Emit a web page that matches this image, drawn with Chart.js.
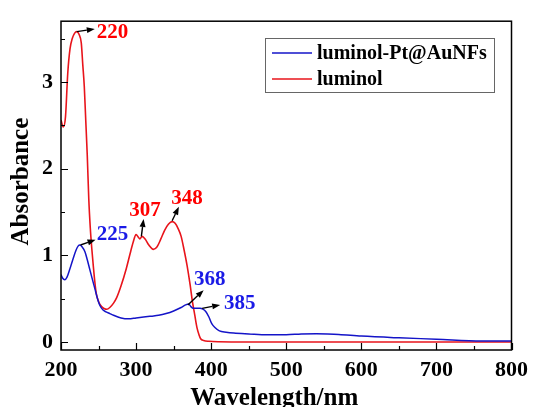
<!DOCTYPE html>
<html><head><meta charset="utf-8">
<script src="https://cdn.jsdelivr.net/npm/chart.js@4/dist/chart.umd.min.js"></script>
<style>html,body{margin:0;padding:0;background:#fff}</style>
</head><body>
<canvas id="c" width="535" height="407"></canvas>
<script>
// ---- data ----
const seriesNames = ['luminol-Pt@AuNFs', 'luminol'];
const wavelengthsPt = [200,202,205,208,212,216,220,223,225,228,232,235,238,241,245,249,252,256,260,265,270,280,290,300,310,320,330,340,350,360,366,370,373,376,380,385,389,393,397,401,405,411,420,430,450,475,500,520,540,555,570,600,650,700,760,800];
const absorbancePt = [0.78,0.74,0.72,0.75,0.85,0.96,1.06,1.11,1.12,1.10,1.04,0.95,0.85,0.75,0.62,0.49,0.42,0.37,0.35,0.33,0.31,0.28,0.27,0.28,0.29,0.30,0.31,0.33,0.36,0.40,0.43,0.44,0.41,0.39,0.39,0.39,0.38,0.35,0.29,0.21,0.17,0.13,0.115,0.105,0.095,0.085,0.085,0.095,0.097,0.095,0.09,0.07,0.05,0.035,0.015,0.015];
const wavelengthsLum = [200,203,206,209,212,215,218,221,224,227,229,231,233,235,237,239,241,243,245,247,250,254,258,261,265,270,274,280,287,292,296,300,303,305,308,312,317,323,328,333,338,343,348,352,356,360,364,368,372,375,378,381,384,386,390,397,410,450,500,600,700,800];
const absorbanceLum = [2.56,2.48,2.60,3.10,3.38,3.50,3.56,3.58,3.55,3.45,3.20,2.95,2.55,2.15,1.65,1.32,1.08,0.88,0.70,0.56,0.47,0.41,0.385,0.38,0.40,0.45,0.51,0.65,0.85,1.02,1.15,1.24,1.21,1.19,1.22,1.19,1.12,1.07,1.10,1.19,1.29,1.36,1.39,1.37,1.31,1.22,1.06,0.88,0.66,0.47,0.32,0.17,0.08,0.04,0.02,0.01,0.005,0.003,0.003,0.003,0.003,0.003];
const xTickLabels = [200,300,400,500,600,700,800];
const yTickLabels = [0,1,2,3];
const xTitle = 'Wavelength/nm';
const yTitle = 'Absorbance';
// peak annotations (series index: 0 = Pt@AuNFs, 1 = luminol)
const peakText   = ['220','225','307','348','368','385'];
const peakSeries = [1,0,1,1,0,0];
const arrowFrom  = [[221,3.58],[226,1.12],[307,1.22],[348,1.40],[369,0.43],[388,0.39]];
const arrowTo    = [[245,3.61],[246,1.18],[310,1.42],[357,1.56],[390,0.60],[412,0.43]];
const labelAt    = [[247.5,3.57],[247.5,1.24],[291,1.52],[347,1.65],[377,0.72],[417,0.45]];

const lineColors = ['#1414c8','#e8141b'];
const textColors = ['#1a1ae6','#ff0000'];
const FONT = '"Liberation Serif","Times New Roman",serif';

const deco = {
  id: 'deco',
  afterDatasetsDraw(chart) {
    const {ctx, chartArea: a, scales: {x, y}} = chart;
    ctx.save();
    ctx.strokeStyle = '#000';
    ctx.lineWidth = 1.5;
    ctx.strokeRect(a.left, a.top, a.right - a.left, a.bottom - a.top);
    ctx.lineWidth = 1.2;
    ctx.beginPath();
    for (let v = 200; v <= 800; v += 50) {
      const px = Math.round(x.getPixelForValue(v)) + 0.5;
      const len = v % 100 === 0 ? 7 : 4;
      ctx.moveTo(px, a.bottom); ctx.lineTo(px, a.bottom - len);
    }
    for (let v = 0; v <= 3.5; v += 0.5) {
      const py = Math.round(y.getPixelForValue(v)) + 0.5;
      const len = Number.isInteger(v) ? 7 : 4;
      ctx.moveTo(a.left, py); ctx.lineTo(a.left + len, py);
    }
    ctx.stroke();
    // axis titles
    ctx.fillStyle = '#000';
    ctx.font = 'bold 25px ' + FONT;
    ctx.textAlign = 'center';
    ctx.textBaseline = 'alphabetic';
    ctx.fillText(xTitle, (a.left + a.right) / 2 - 12, 405);
    ctx.save();
    ctx.translate(28, (a.top + a.bottom) / 2 - 4);
    ctx.rotate(-Math.PI / 2);
    ctx.fillText(yTitle, 0, 0);
    ctx.restore();
    // arrows
    ctx.fillStyle = '#000';
    ctx.lineWidth = 1.4;
    for (let i = 0; i < peakText.length; i++) {
      const x1 = x.getPixelForValue(arrowFrom[i][0]), y1 = y.getPixelForValue(arrowFrom[i][1]);
      const x2 = x.getPixelForValue(arrowTo[i][0]), y2 = y.getPixelForValue(arrowTo[i][1]);
      const ang = Math.atan2(y2 - y1, x2 - x1);
      const hl = 8, hw = 3;
      const bx = x2 - hl * Math.cos(ang), by = y2 - hl * Math.sin(ang);
      ctx.beginPath(); ctx.moveTo(x1, y1); ctx.lineTo(bx, by); ctx.stroke();
      ctx.beginPath();
      ctx.moveTo(x2, y2);
      ctx.lineTo(bx + hw * Math.sin(ang), by - hw * Math.cos(ang));
      ctx.lineTo(bx - hw * Math.sin(ang), by + hw * Math.cos(ang));
      ctx.closePath(); ctx.fill();
    }
    // labels
    ctx.font = 'bold 21px ' + FONT;
    ctx.textBaseline = 'middle';
    ctx.textAlign = 'left';
    for (let i = 0; i < peakText.length; i++) {
      ctx.fillStyle = textColors[peakSeries[i]];
      ctx.fillText(peakText[i], x.getPixelForValue(labelAt[i][0]), y.getPixelForValue(labelAt[i][1]));
    }
    // legend
    ctx.strokeStyle = '#666';
    ctx.lineWidth = 1;
    ctx.strokeRect(265.5, 38.5, 229, 54);
    ctx.font = 'bold 20px ' + FONT;
    const rows = [53, 79];
    chart.data.datasets.forEach((ds, i) => {
      ctx.strokeStyle = ds.borderColor;
      ctx.lineWidth = 1.5;
      ctx.beginPath(); ctx.moveTo(272, rows[i]); ctx.lineTo(312, rows[i]); ctx.stroke();
      ctx.fillStyle = '#000';
      ctx.fillText(ds.label, 317, rows[i] + 1);
    });
    ctx.restore();
  }
};

const toPts = (xs, ys) => xs.map((v, i) => ({x: v, y: ys[i]}));

new Chart(document.getElementById('c'), {
  type: 'line',
  data: {
    datasets: [
      {label: seriesNames[0], data: toPts(wavelengthsPt, absorbancePt), borderColor: lineColors[0], borderWidth: 1.5, pointRadius: 0, cubicInterpolationMode: 'monotone', fill: false},
      {label: seriesNames[1], data: toPts(wavelengthsLum, absorbanceLum), borderColor: lineColors[1], borderWidth: 1.6, pointRadius: 0, cubicInterpolationMode: 'monotone', fill: false}
    ]
  },
  options: {
    responsive: false,
    animation: false,
    events: [],
    layout: {padding: {left: 0, top: 14, right: 20, bottom: 0}},
    plugins: {legend: {display: false}, tooltip: {enabled: false}},
    scales: {
      x: {
        type: 'linear', min: 200, max: 800,
        grid: {display: false, drawTicks: false},
        border: {display: false},
        afterFit(s) { s.height = 57; },
        afterBuildTicks(s) { s.ticks = xTickLabels.map(v => ({value: v})); },
        ticks: {autoSkip: false, maxRotation: 0, padding: 7, color: '#000', font: {family: FONT, size: 22, weight: 'bold'}},
        title: {display: false}
      },
      y: {
        type: 'linear', min: -0.09, max: 3.7,
        grid: {display: false, drawTicks: false},
        border: {display: false},
        afterFit(s) { s.width = 61; },
        afterBuildTicks(s) { s.ticks = yTickLabels.map(v => ({value: v})); },
        ticks: {autoSkip: false, padding: 8, color: '#000', font: {family: FONT, size: 22, weight: 'bold'}},
        title: {display: false}
      }
    }
  },
  plugins: [deco]
});
</script>
</body></html>
